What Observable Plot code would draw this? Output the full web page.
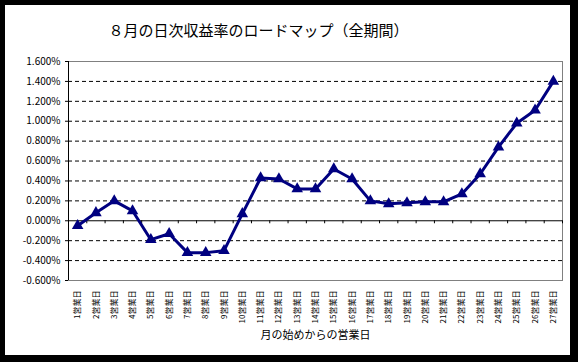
<!DOCTYPE html>
<html><head><meta charset="utf-8">
<script src="https://cdn.jsdelivr.net/npm/d3@7"></script>
<script src="https://cdn.jsdelivr.net/npm/@observablehq/plot@0.6"></script>
<style>
html,body{margin:0;padding:0;background:#000;width:578px;height:362px;overflow:hidden;}
#chart{position:absolute;left:5px;top:5px;width:565px;height:350px;background:#fff;}
#chart svg{display:block;}
</style></head><body><div id="chart"></div>
<script>
const title = "８月の日次収益率のロードマップ（全期間）";
const xTitle = "月の始めからの営業日";
const dayLabels = ["1営業日","2営業日","3営業日","4営業日","5営業日","6営業日","7営業日","8営業日","9営業日","10営業日","11営業日","12営業日","13営業日","14営業日","15営業日","16営業日","17営業日","18営業日","19営業日","20営業日","21営業日","22営業日","23営業日","24営業日","25営業日","26営業日","27営業日"];
const days = [1,2,3,4,5,6,7,8,9,10,11,12,13,14,15,16,17,18,19,20,21,22,23,24,25,26,27];
const returns = [-0.05,0.08,0.20,0.10,-0.19,-0.13,-0.32,-0.32,-0.30,0.07,0.43,0.42,0.32,0.32,0.52,0.42,0.20,0.17,0.18,0.19,0.19,0.27,0.47,0.74,0.98,1.11,1.40];
const yTicks = [-0.6,-0.4,-0.2,0,0.2,0.4,0.6,0.8,1.0,1.2,1.4,1.6];

const data = days.map((d, i) => ({day: d, value: returns[i]}));
const boundaries = days.map(d => d - 0.5).concat([days[days.length - 1] + 0.5]);
const yMin = yTicks[0], yMax = yTicks[yTicks.length - 1];

const chart = Plot.plot({
  width: 565, height: 350,
  marginLeft: 63, marginRight: 8, marginTop: 56, marginBottom: 75,
  style: {fontFamily: "'Noto Sans CJK JP', sans-serif", background: "#fff", color: "#000", overflow: "visible"},
  x: {domain: [boundaries[0], boundaries[boundaries.length - 1]]},
  y: {domain: [yMin, yMax]},
  marks: [
    Plot.ruleY(yTicks.filter(v => v !== 0 && v !== yMin && v !== yMax), {stroke: "#000", strokeDasharray: "4,3", strokeWidth: 1}),
    Plot.frame({stroke: "#808080"}),
    Plot.ruleX([boundaries[0]], {stroke: "#000"}),
    Plot.ruleY([0], {stroke: "#000"}),
    Plot.ruleX(boundaries, {y1: 0, y2: 0, insetBottom: -3, stroke: "#000"}),
    Plot.axisY({ticks: yTicks, tickFormat: d => d.toFixed(3) + "%", tickSize: 3, tickPadding: 5, fontSize: 10, label: null}),
    Plot.axisX({ticks: days, tickFormat: d => dayLabels[d - 1], tickRotate: -90, tickSize: 0, tickPadding: 10, fontSize: 8, label: null}),
    Plot.line(data, {x: "day", y: "value", stroke: "#000080", strokeWidth: 3}),
    Plot.dot(data, {x: "day", y: "value", symbol: "triangle", r: 4.3, fill: "#000080"}),
    Plot.text([title], {frameAnchor: "top-left", dx: 40, dy: -36, textAnchor: "start", fontSize: 15}),
    Plot.text([xTitle], {frameAnchor: "bottom", dy: 58, fontSize: 11})
  ]
});
document.getElementById("chart").appendChild(chart);
</script></body></html>
